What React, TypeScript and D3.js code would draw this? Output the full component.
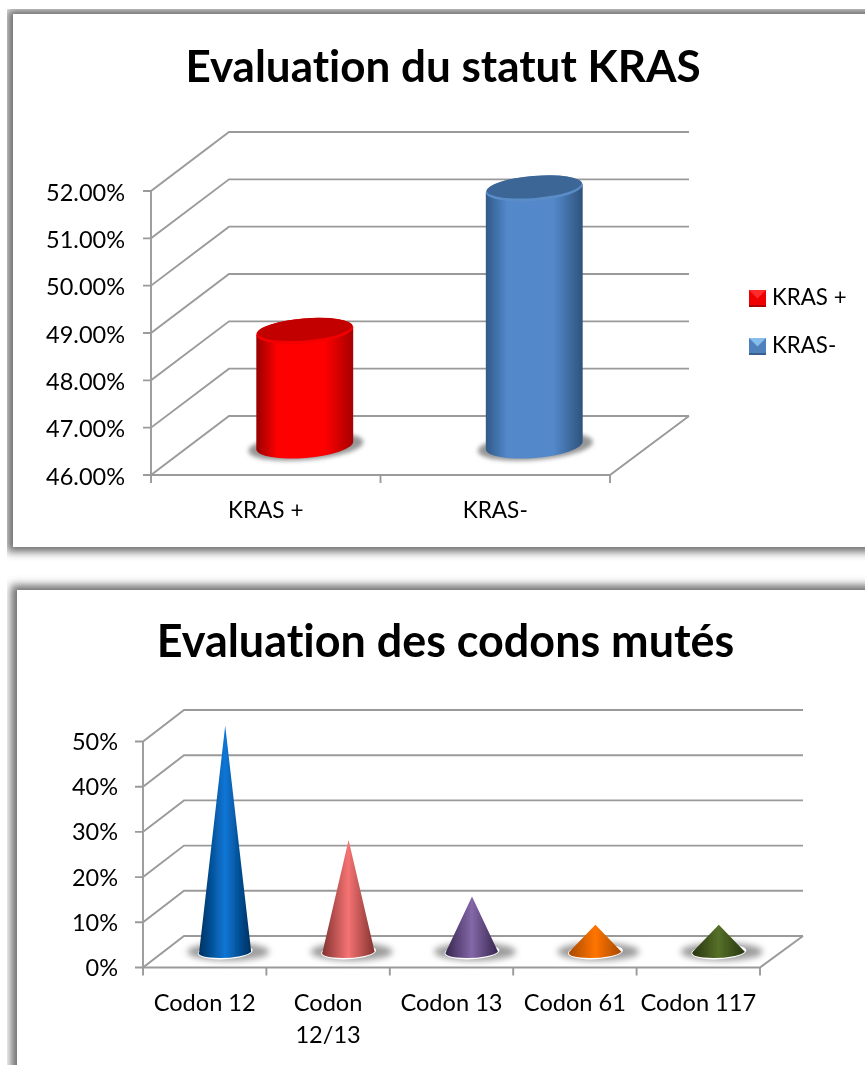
import React from "react";
import * as d3 from "d3";

const kCats = ["KRAS +", "KRAS-"];
const kVals = [48.42, 51.43];
const kTicks = [46, 47, 48, 49, 50, 51, 52];
const kBody = [["#980000", "#ff0000", "#ff0000", "#a80000"], ["#315a88", "#5288cb", "#5288cb", "#2f537c"]];
const kTop = ["#c20000", "#3a6696"];
const kRim = ["#f40000", "#5a8cc8"];

const cCats = [["Codon 12"], ["Codon", "12/13"], ["Codon 13"], ["Codon 61"], ["Codon 117"]];
const cVals = [50, 24.7, 12.2, 6, 6];
const cTicks = [0, 10, 20, 30, 40, 50];
const cCols = [
  ["#012f5e", "#0a76d6"],
  ["#823230", "#f57373"],
  ["#37264f", "#8468a8"],
  ["#a84a00", "#ff7400"],
  ["#27350f", "#567029"],
];

const FONT = "Lato, Carlito, sans-serif";
const GRID = "#9a9a9a";

function Panel({ x, y, w, h }: any) {
  return (
    <g>
      <rect x={x - 6} y={y - 5} width={w + 6} height={h + 10} fill="#707070" filter="url(#pshadow)" />
      <rect x={x} y={y} width={w} height={h} fill="#fff" />
    </g>
  );
}

function Frame({ y, xFront, xBack, dx, dy, ext, ticks, fmt, labelX, labelDy, fs, xTicks }: any) {
  const [y0] = y.domain();
  const floorY = y(y0);
  return (
    <g stroke={GRID} strokeWidth={1.9} fill="none">
      {ticks.map((t: number) => (
        <g key={t}>
          <path d={`M${xFront - 8},${y(t)}H${xFront}L${xFront + dx},${y(t) + dy}H${xBack + dx + ext}`} />
          <text x={labelX} y={y(t) + labelDy} textAnchor="end" fontSize={fs} fontFamily={FONT} fill="#000" stroke="none" style={{ fontVariantLigatures: "none" }}>
            {fmt(t)}
          </text>
        </g>
      ))}
      <path d={`M${xFront},${y(ticks[ticks.length - 1])}V${floorY}`} />
      <path d={`M${xFront},${floorY}H${xBack}L${xBack + dx + ext},${floorY + dy}`} />
      {xTicks.map((t: number, i: number) => (
        <path key={i} d={`M${t},${floorY}v8`} />
      ))}
    </g>
  );
}

function Cylinder({ cx, rx, ry, tilt, base, top, i }: any) {
  const a = (tilt * Math.PI) / 180;
  const ex = rx * Math.cos(a);
  const ey = rx * Math.sin(a);
  return (
    <g>
      <ellipse cx={cx + 1} cy={base + 1} rx={rx + 9} ry={ry + 1} transform={`rotate(${tilt} ${cx} ${base})`} fill="#969696" filter="url(#soft)" />
      <path
        d={`M${cx - ex},${top - ey}L${cx - ex},${base - ey}A${rx},${ry} ${tilt} 0 0 ${cx + ex},${base + ey}L${cx + ex},${top + ey}Z`}
        fill={`url(#kb${i})`}
      />
      <ellipse cx={cx} cy={top} rx={rx} ry={ry} transform={`rotate(${tilt} ${cx} ${top})`} fill={kRim[i]} />
      <ellipse cx={cx} cy={top - 1.5} rx={rx - 1} ry={ry - 1.5} transform={`rotate(${tilt} ${cx} ${top - 1.5})`} fill={kTop[i]} />
    </g>
  );
}

function Cone({ cx, rx, ry, base, tip, i }: any) {
  return (
    <g>
      <ellipse cx={cx + 3} cy={base} rx={rx + 15} ry={ry + 3} fill="#9c9c9c" filter="url(#soft2)" />
      <ellipse cx={cx} cy={base} rx={rx + 1.5} ry={ry + 1.5} fill="#fff" transform={`rotate(-3 ${cx} ${base})`} />
      <path d={`M${cx},${tip}L${cx - rx},${base}A${rx},${ry} -3 0 0 ${cx + rx},${base}Z`} fill={`url(#cb${i})`} />
    </g>
  );
}

function Swatch({ x, y, s, c }: any) {
  const m = 2;
  const q = (pts: number[][], fill: string) => (
    <polygon points={pts.map((p) => `${x + p[0]},${y + p[1]}`).join(" ")} fill={fill} />
  );
  return (
    <g>
      <rect x={x} y={y} width={s} height={s} fill={c[1]} />
      <rect x={x} y={y + s - m} width={s} height={m} fill={c[2]} />
      {q([[0, 0], [s, 0], [s / 2, s * 0.5]], c[0])}
    </g>
  );
}

export default function App() {
  // KRAS chart
  const ky = d3.scaleLinear().domain([46, 52]).range([475, 191]);
  const kx = d3.scaleBand<string>().domain(kCats).range([151, 610]);
  const kdx = 78, kdy = -59;
  const kXT = [151, 151 + kx.step(), 610];
  const kFmt = (t: number) => `${t.toFixed(2)}%`;
  // Codon chart
  const cy = d3.scaleLinear().domain([0, 50]).range([967.5, 741.5]);
  const cKeys = cCats.map((c) => c.join(" "));
  const cx = d3.scaleBand<string>().domain(cKeys).range([143, 760]);
  const cdx = 41, cdy = -31.5;
  const cXT = d3.range(6).map((i) => 143 + i * cx.step());
  const lig = { fontVariantLigatures: "none" } as any;

  return (
    <svg width={865} height={1065} style={{ position: "absolute", left: 0, top: 0 }}>
      <defs>
        <filter id="pshadow" x="-5%" y="-5%" width="110%" height="110%"><feGaussianBlur stdDeviation="4" /></filter>
        <filter id="soft" x="-30%" y="-60%" width="160%" height="220%"><feGaussianBlur stdDeviation="2.2" /></filter>
        <filter id="soft2" x="-30%" y="-80%" width="160%" height="260%"><feGaussianBlur stdDeviation="3.4" /></filter>
        <filter id="all" x="0" y="0" width="100%" height="100%"><feGaussianBlur stdDeviation="0.35" /></filter>
        {kBody.map((c, i) => (
          <linearGradient key={i} id={`kb${i}`} x1="0" x2="1" y1="0" y2="0">
            <stop offset="0" stopColor={c[0]} />
            <stop offset="0.22" stopColor={c[1]} />
            <stop offset="0.7" stopColor={c[2]} />
            <stop offset="1" stopColor={c[3]} />
          </linearGradient>
        ))}
        {cCols.map((c, i) => (
          <linearGradient key={i} id={`cb${i}`} x1="0" x2="1" y1="0" y2="0">
            <stop offset="0" stopColor={c[0]} />
            <stop offset="0.5" stopColor={c[1]} />
            <stop offset="1" stopColor={c[0]} />
          </linearGradient>
        ))}
      </defs>
      <rect width={865} height={1065} fill="#fff" />
      <g filter="url(#all)">
        <Panel x={13} y={14} w={900} h={533} />
        <text x={443} y={82} textAnchor="middle" fontSize={44} fontWeight={700} fontFamily={FONT} fill="#000" style={lig}>Evaluation du statut KRAS</text>
        <Frame y={ky} xFront={151} xBack={610} dx={kdx} dy={kdy} ext={1} ticks={kTicks} fmt={kFmt} labelX={125} labelDy={9.7} fs={23.5} xTicks={kXT} />
        {kCats.map((c, i) => (
          <g key={c}>
            <Cylinder cx={kx(c)! + kx.bandwidth() / 2 + kdx / 2} rx={48.6} ry={12.5} tilt={-4.7} base={ky(46) + kdy / 2} top={ky(46) + kdy / 2 - (ky(46) - ky(kVals[i]))} i={i} />
            <text x={kx(c)! + kx.bandwidth() / 2} y={517.7} textAnchor="middle" fontSize={22.6} fontFamily={FONT} fill="#000" style={lig}>{c}</text>
          </g>
        ))}
        <Swatch x={749} y={290} s={17} c={["#ff2a2a", "#ee0000", "#b00000"]} />
        <text x={772} y={305} fontSize={22.3} fontFamily={FONT} fill="#000" style={lig}>KRAS +</text>
        <Swatch x={749} y={338} s={17} c={["#86bdec", "#4f81bd", "#37618f"]} />
        <text x={772} y={353} fontSize={22.3} fontFamily={FONT} fill="#000" style={lig}>KRAS-</text>

        <Panel x={17} y={590} w={900} h={520} />
        <text x={445.5} y={657} textAnchor="middle" fontSize={44.9} fontWeight={700} fontFamily={FONT} fill="#000" style={lig}>Evaluation des codons mutés</text>
        <Frame y={cy} xFront={143} xBack={760} dx={cdx} dy={cdy} ext={2} ticks={cTicks} fmt={(t: number) => `${t}%`} labelX={118} labelDy={8.5} fs={23.5} xTicks={cXT} />
        {cKeys.map((k, i) => {
          const c0 = cx(k)! + cx.bandwidth() / 2;
          const base = cy(0) + cdy / 2;
          return (
            <g key={k}>
              <Cone cx={c0 + cdx / 2} rx={26} ry={6} base={base} tip={base - (cy(0) - cy(cVals[i]))} i={i} />
              {cCats[i].map((l, j) => (
                <text key={j} x={c0} y={1011 + j * 32} textAnchor="middle" fontSize={23.6} fontFamily={FONT} fill="#000" style={lig}>{l}</text>
              ))}
            </g>
          );
        })}
      </g>
    </svg>
  );
}
